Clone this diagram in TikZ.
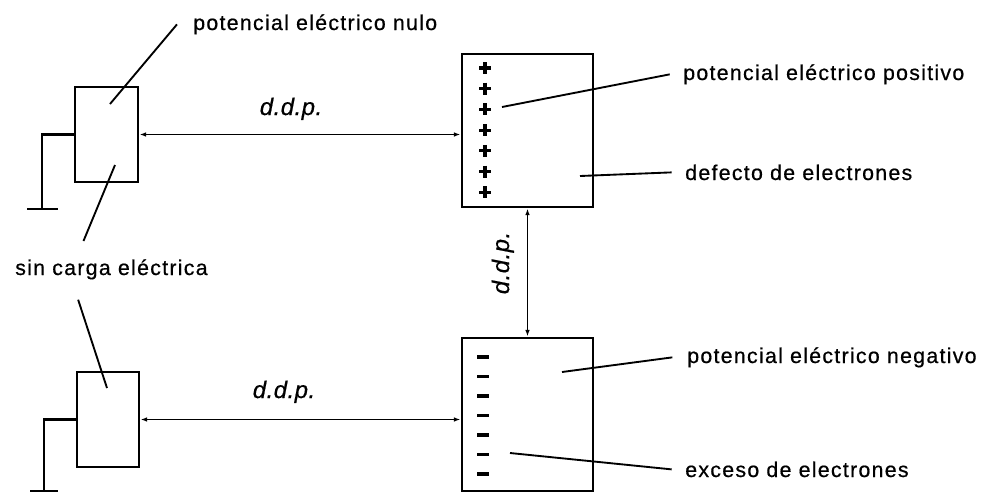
\documentclass[tikz,border=0pt]{standalone}
\usepackage{fontspec}
\setmainfont{Liberation Sans}
\newfontfamily\lblfont{Liberation Sans}[LetterSpace=6,FakeBold=0.6]
\newfontfamily\ddpfont{Liberation Sans}[LetterSpace=2,FakeBold=0.6]
\usetikzlibrary{arrows.meta}

\begin{document}
\begin{tikzpicture}[x=0.75pt,y=-0.75pt,
  box/.style={draw,line width=2.2pt,inner sep=0pt},
  wire/.style={line width=2.2pt},
  lead/.style={line width=1.4pt},
  ddp/.style={<->,line width=1.1pt,>={Latex[length=5pt,width=3.5pt]}},
  txt/.style={inner sep=0pt,anchor=base west,font=\lblfont\fontsize{16}{19}\selectfont},
  ital/.style={inner sep=0pt,anchor=base,font=\ddpfont\itshape\fontsize{18}{21}\selectfont}]
  % one unit is one pixel of the 984x493 picture, y runs downwards
  \useasboundingbox (0,0) rectangle (984,493);
  % the four bodies
  \node[box,minimum width=47.25pt,minimum height=71.25pt] (nulbox) at (106.5,134.5) {};
  \node[box,minimum width=46.5pt,minimum height=71.25pt] (tierbox) at (108,419.5) {};
  \node[box,minimum width=98.25pt,minimum height=114.75pt] (posbox) at (527.5,130.5) {};
  \node[box,minimum width=98.25pt,minimum height=114.75pt] (negbox) at (527.5,414.5) {};
  % earth connections
  \coordinate (gnda) at (42,209);
  \coordinate (gndb) at (44,491);
  \draw[wire] (nulbox.west) -| (gnda);
  \draw[wire] ([xshift=-11.25pt]gnda) -- ([xshift=12pt]gnda);
  \draw[wire] (tierbox.west) -| (gndb);
  \draw[wire] ([xshift=-10.5pt]gndb) -- ([xshift=10.5pt]gndb);
  % charges
  \foreach \k in {0,...,6}{
    \draw[line width=2.3pt] (479,{68+20.7*\k}) -- (491,{68+20.7*\k})
      (485,{62+20.7*\k}) -- (485,{74+20.7*\k});
    \draw[line width=2.8pt] (477,{357+19.5*\k}) -- (489,{357+19.5*\k});
  }
  % potential differences
  \draw[ddp] (nulbox.east) -- (nulbox.east -| posbox.west);
  \draw[ddp] (tierbox.east) -- (tierbox.east -| negbox.west);
  \draw[ddp] (posbox.south) -- (negbox.north);
  \node[ital] (ddpa) at (291,115) {d.d.p.};
  \node[ital] (ddpb) at (284,398) {d.d.p.};
  \node[ital,rotate=90] (ddpc) at (509,263) {d.d.p.};
  % labels
  \node[txt] (nulo) at (193,30) {potencial eléctrico nulo};
  \node[txt] (posit) at (683,80) {potencial eléctrico positivo};
  \node[txt] (defect) at (685,180) {defecto de electrones};
  \node[txt] (negat) at (687,363) {potencial eléctrico negativo};
  \node[txt] (exces) at (685,477) {exceso de electrones};
  \node[txt] (sincarga) at (15,275) {sin carga eléctrica};
  % leader lines
  \coordinate (nula) at (110,104);
  \coordinate (nulb) at (115,165);
  \coordinate (tiera) at (107,388);
  \coordinate (posa) at (502,107);
  \coordinate (posb) at (580,176);
  \coordinate (nega) at (562,372);
  \coordinate (negb) at (510,453);
  \draw[lead] (nula) -- ([xshift=-12pt]nulo.west);
  \draw[lead] (nulb) -- ([xshift=-21pt,yshift=13.5pt]sincarga.north);
  \draw[lead] (tiera) -- ([xshift=-25pt,yshift=-15pt]sincarga.south);
  \draw[lead] (posa) -- ([xshift=-10pt]posit.west);
  \draw[lead] (posb) -- ([xshift=-10pt]defect.west);
  \draw[lead] (nega) -- ([xshift=-11pt]negat.west);
  \draw[lead] (negb) -- ([xshift=-10pt]exces.west);
\end{tikzpicture}
\end{document}
